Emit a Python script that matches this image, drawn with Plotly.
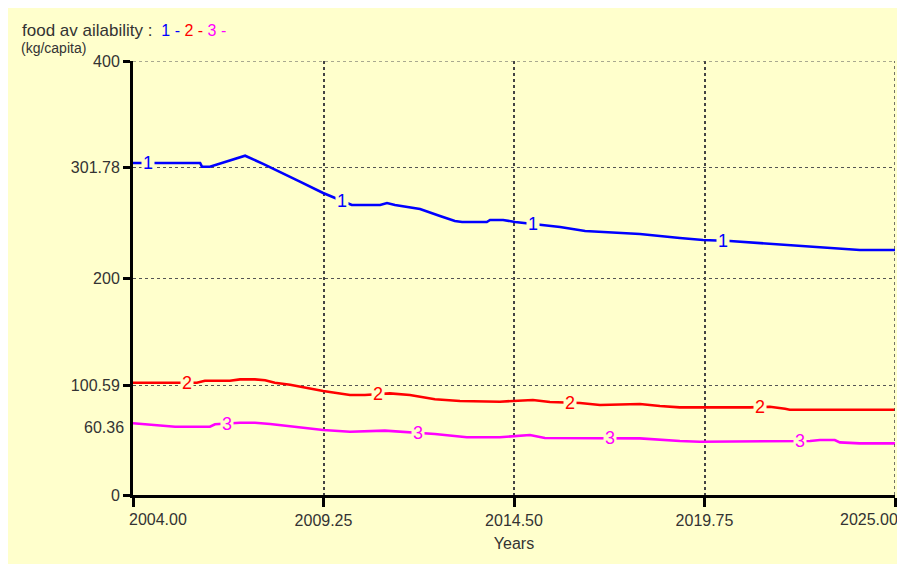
import numpy as np
import plotly.graph_objects as go

# ---- data ----
years_1 = [2004.0, 2005.85, 2005.9, 2006.12, 2007.09, 2007.6, 2008.6, 2009.24, 2009.57, 2010.03,
           2010.81, 2011.0, 2011.22, 2011.91, 2012.46, 2012.87, 2013.07, 2013.75, 2013.84, 2014.2,
           2014.53, 2015.22, 2015.77, 2016.46, 2016.87, 2017.97, 2019.07, 2019.71, 2020.45,
           2022.38, 2024.03, 2025.0]
food_1 = [306.0, 306.0, 302.6, 302.6, 312.7, 305.0, 288.8, 278.3, 273.7, 267.3,
          267.3, 269.1, 267.3, 263.6, 257.1, 252.5, 251.6, 251.6, 253.5, 253.5,
          251.6, 248.8, 247.0, 243.3, 242.4, 240.6, 236.9, 235.0, 234.1,
          229.5, 225.8, 225.8]

years_2 = [2004.0, 2005.76, 2005.98, 2006.67, 2006.95, 2007.36, 2007.64, 2007.91, 2008.33,
           2009.24, 2009.98, 2010.39, 2011.08, 2011.63, 2012.32, 2013.01, 2014.11, 2015.02,
           2015.49, 2016.32, 2016.87, 2017.97, 2018.52, 2019.07, 2021.0, 2021.55, 2021.97,
           2022.10, 2025.0]
food_2 = [103.5, 103.5, 105.3, 105.3, 106.6, 106.6, 105.7, 103.5, 101.7,
          95.9, 92.2, 92.2, 93.7, 92.2, 88.2, 86.6, 86.0, 87.6,
          85.7, 84.8, 82.9, 83.9, 82.0, 80.8, 80.8, 81.4, 79.5,
          78.6, 78.6]

years_3 = [2004.0, 2004.88, 2005.16, 2006.12, 2006.26, 2006.95, 2007.36, 2007.78, 2008.6,
           2009.24, 2009.98, 2010.94, 2012.32, 2013.2, 2014.11, 2014.94, 2015.35, 2016.87,
           2017.97, 2019.07, 2019.62, 2022.66, 2022.93, 2023.34, 2023.48, 2024.03, 2025.0]
food_3 = [66.1, 63.9, 62.9, 62.9, 65.2, 66.6, 66.6, 65.4, 62.0,
          59.9, 58.3, 59.3, 56.2, 53.2, 53.2, 55.3, 52.5, 52.5,
          52.2, 49.8, 49.1, 49.8, 50.7, 50.7, 48.5, 47.6, 47.6]

series_names = ["1", "2", "3"]
label_years = [[2004.4, 2009.76, 2015.02, 2020.26],
               [2005.5, 2010.75, 2016.04, 2021.28],
               [2006.6, 2011.85, 2017.14, 2022.38]]

x_ticks = [2004.0, 2009.25, 2014.5, 2019.75, 2025.0]
x_tick_text = ["2004.00", "2009.25", "2014.50", "2019.75", "2025.00"]
y_ticks = [0, 100.59, 200, 301.78, 400]
y_tick_text = ["0", "100.59", "200", "301.78", "400"]
y_extra_label = 60.36
y_top = 400
x_right = 2025.0

colors = ["#0000FF", "#FF0000", "#FF00FF"]
BG = "#FFFFCC"
TXT = "#333333"
FONT = "Liberation Sans, Arial, sans-serif"

fig = go.Figure()
all_x = [years_1, years_2, years_3]
all_y = [food_1, food_2, food_3]
for xs, ys, c, n in zip(all_x, all_y, colors, series_names):
    fig.add_trace(go.Scatter(x=xs, y=ys, mode="lines", name=n,
                             line=dict(color=c, width=2.6), showlegend=False,
                             hoverinfo="x+y"))

annotations = []
for xs, ys, c, n, lys in zip(all_x, all_y, colors, series_names, label_years):
    for ly in lys:
        annotations.append(dict(x=ly, y=float(np.interp(ly, xs, ys)), xref="x", yref="y",
                                text=n, showarrow=False, bgcolor=BG, borderpad=1,
                                font=dict(color=c, size=18, family=FONT)))

annotations.append(dict(x=0, y=y_extra_label, xref="paper", yref="y", xanchor="right",
                        xshift=-7, yshift=2, text=f"{y_extra_label:.2f}", showarrow=False,
                        font=dict(color=TXT, size=16, family=FONT)))
annotations.append(dict(x=-(125 - 11) / 762, y=1 + 13 / 434, xref="paper", yref="paper",
                        xanchor="left", yanchor="middle", text="(kg/capita)", showarrow=False,
                        font=dict(color=TXT, size=14, family=FONT)))

# first / last x tick labels are shifted inwards in the reference
tick_font = dict(color=TXT, size=16, family=FONT)
annotations.append(dict(x=x_ticks[0], y=0, xref="x", yref="paper", xanchor="left",
                        yanchor="middle", xshift=-6, yshift=-24, text=x_tick_text[0],
                        showarrow=False, font=tick_font))
annotations.append(dict(x=x_ticks[-1], y=0, xref="x", yref="paper", xanchor="right",
                        yanchor="middle", xshift=5, yshift=-24, text=x_tick_text[-1],
                        showarrow=False, font=tick_font))
shown_ticktext = [""] + x_tick_text[1:-1] + [""]

title_text = ("<span style='font-size:17px'>food av ailability :</span>&nbsp;&nbsp;"
              "<span style='color:#0000FF'>1 - </span>"
              "<span style='color:#FF0000'>2 - </span>"
              "<span style='color:#FF00FF'>3 -</span>")

fig.update_layout(
    width=905, height=564,
    paper_bgcolor=BG, plot_bgcolor=BG,
    margin=dict(l=125, r=18, t=53, b=77),
    font=dict(family=FONT, color=TXT, size=16),
    title=dict(text=title_text, x=14 / 905, xanchor="left", xref="container",
               y=1 - 22 / 564, yanchor="middle", yref="container",
               font=dict(size=16, color=TXT, family=FONT)),
    annotations=annotations,
    shapes=[
        dict(type="line", xref="paper", yref="y", x0=0, x1=1, y0=y_top, y1=y_top,
             line=dict(color="#555555", width=1, dash="dot")),
        dict(type="line", xref="x", yref="paper", x0=x_right, x1=x_right, y0=0, y1=1,
             line=dict(color="#444444", width=1.5, dash="dot")),
    ],
)

fig.update_xaxes(range=[2004, 2025], tickvals=x_ticks, ticktext=shown_ticktext,
                 showgrid=True, gridcolor="#444444", griddash="dot", gridwidth=1.5,
                 showline=True, linecolor="black", linewidth=3,
                 ticks="outside", ticklen=9, tickwidth=3, tickcolor="black",
                 zeroline=False, title=dict(text="Years", standoff=10,
                                            font=dict(size=16, color=TXT)),
                 tickfont=dict(size=16, color=TXT))
fig.update_yaxes(range=[0, 400], tickvals=y_ticks, ticktext=y_tick_text,
                 showgrid=True, gridcolor="#555555", griddash="dot", gridwidth=1,
                 showline=True, linecolor="black", linewidth=3,
                 ticks="outside", ticklen=7, tickwidth=3, tickcolor="black",
                 zeroline=False, tickfont=dict(size=16, color=TXT))

fig.write_html("out.html")
